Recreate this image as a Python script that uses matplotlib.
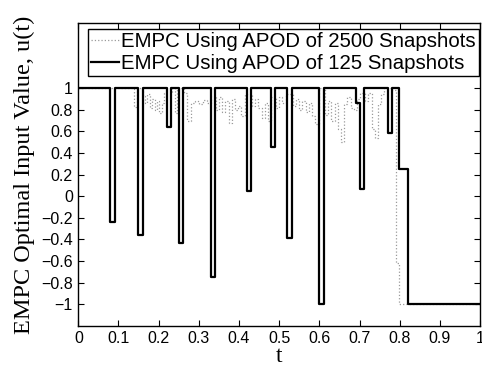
import numpy as np
import matplotlib
matplotlib.use("Agg")
import matplotlib.pyplot as plt

# EMPC input with APOD of 125 snapshots (piecewise constant)
t_125 = [0, 0.080, 0.091, 0.149, 0.160, 0.220, 0.231, 0.251, 0.261, 0.330, 0.340,
         0.419, 0.430, 0.479, 0.490, 0.519, 0.531, 0.600, 0.611, 0.690, 0.700,
         0.711, 0.770, 0.781, 0.799, 0.820, 1.0]
u_125 = [1, -0.24, 1, -0.36, 1, 0.64, 1, -0.43, 1, -0.75, 1,
         0.05, 1, 0.46, 1, -0.39, 1, -1, 1, 0.86, 0.07,
         1, 0.59, 1, 0.25, -1, -1]

# EMPC input with APOD of 2500 snapshots (piecewise constant)
t_2500 = [0, 0.138, 0.145, 0.160, 0.166, 0.172, 0.178, 0.184, 0.190, 0.196, 0.202,
          0.208, 0.214, 0.232, 0.240, 0.246, 0.262, 0.270, 0.280, 0.290, 0.300,
          0.310, 0.320, 0.330, 0.342, 0.350, 0.358, 0.366, 0.374, 0.382, 0.390,
          0.398, 0.406, 0.414, 0.432, 0.440, 0.448, 0.456, 0.464, 0.472, 0.480,
          0.492, 0.500, 0.508, 0.516, 0.534, 0.542, 0.550, 0.558, 0.566, 0.574,
          0.582, 0.590, 0.598, 0.614, 0.622, 0.630, 0.638, 0.646, 0.654, 0.662,
          0.670, 0.678, 0.686, 0.694, 0.702, 0.714, 0.722, 0.730, 0.738, 0.746,
          0.754, 0.762, 0.782, 0.790, 0.798, 1.0]
u_2500 = [1, 0.83, 1, 0.93, 0.86, 0.95, 0.82, 0.90, 0.80, 0.88, 0.77,
          0.86, 0.96, 1, 0.77, 1, 0.96, 0.70, 0.86, 0.88, 0.85,
          0.89, 0.86, 0.93, 0.80, 0.92, 0.78, 0.88, 0.68, 0.90, 0.80,
          0.84, 0.74, 0.95, 0.84, 0.90, 0.82, 0.72, 0.86, 0.70, 0.92,
          0.82, 0.92, 0.86, 0.95, 0.84, 0.90, 0.80, 0.88, 0.78, 0.86,
          0.74, 0.67, 1, 0.75, 0.88, 0.70, 0.86, 0.62, 0.50, 0.85,
          0.92, 0.82, 0.80, 0.90, 0.96, 0.88, 0.96, 0.62, 0.54, 0.85,
          0.95, 1, 0.98, -0.62, -1, -1]

xticks = [0, 0.1, 0.2, 0.3, 0.4, 0.5, 0.6, 0.7, 0.8, 0.9, 1]
xticklabels = ["0", "0.1", "0.2", "0.3", "0.4", "0.5", "0.6", "0.7", "0.8", "0.9", "1"]
yticks = [-1, -0.8, -0.6, -0.4, -0.2, 0, 0.2, 0.4, 0.6, 0.8, 1]
yticklabels = ["\u22121", "\u22120.8", "\u22120.6", "\u22120.4", "\u22120.2", "0",
               "0.2", "0.4", "0.6", "0.8", "1"]

plt.rcParams["font.family"] = ["Liberation Sans", "DejaVu Sans"]

fig = plt.figure(figsize=(4.82, 3.71), dpi=100)
ax = fig.add_axes([0.1625, 0.122, 0.8335, 0.8147])

ax.plot(t_2500, u_2500, drawstyle="steps-post", color="#9a9a9a", linestyle=":",
        linewidth=0.9, label="EMPC Using APOD of 2500 Snapshots")
ax.plot(t_125, u_125, drawstyle="steps-post", color="black", linestyle="-",
        linewidth=1.6, label="EMPC Using APOD of 125 Snapshots")

ax.set_xlim(0, 1)
ax.set_ylim(-1.2, 1.6)
ax.set_xticks(xticks)
ax.set_xticklabels(xticklabels)
ax.set_yticks(yticks)
ax.set_yticklabels(yticklabels)
ax.tick_params(direction="in", top=True, right=True, length=4, width=0.8,
               labelsize=11.5, pad=4)
for s in ax.spines.values():
    s.set_linewidth(1.0)

ax.set_xlabel("t", family=["Liberation Serif"], fontsize=17, labelpad=0)
ax.set_ylabel("EMPC Optimal Input Value, u(t)", family=["Liberation Serif"],
              fontsize=17.5, labelpad=4)

leg = ax.legend(loc="upper left", bbox_to_anchor=(0.024, 0.982), fontsize=14.7,
                frameon=True, fancybox=False, edgecolor="black", framealpha=1,
                borderaxespad=0, borderpad=0.15, handlelength=1.35,
                handletextpad=0.12, labelspacing=0.15)
leg.get_frame().set_linewidth(1.0)

fig.savefig("out.png", dpi=100)
